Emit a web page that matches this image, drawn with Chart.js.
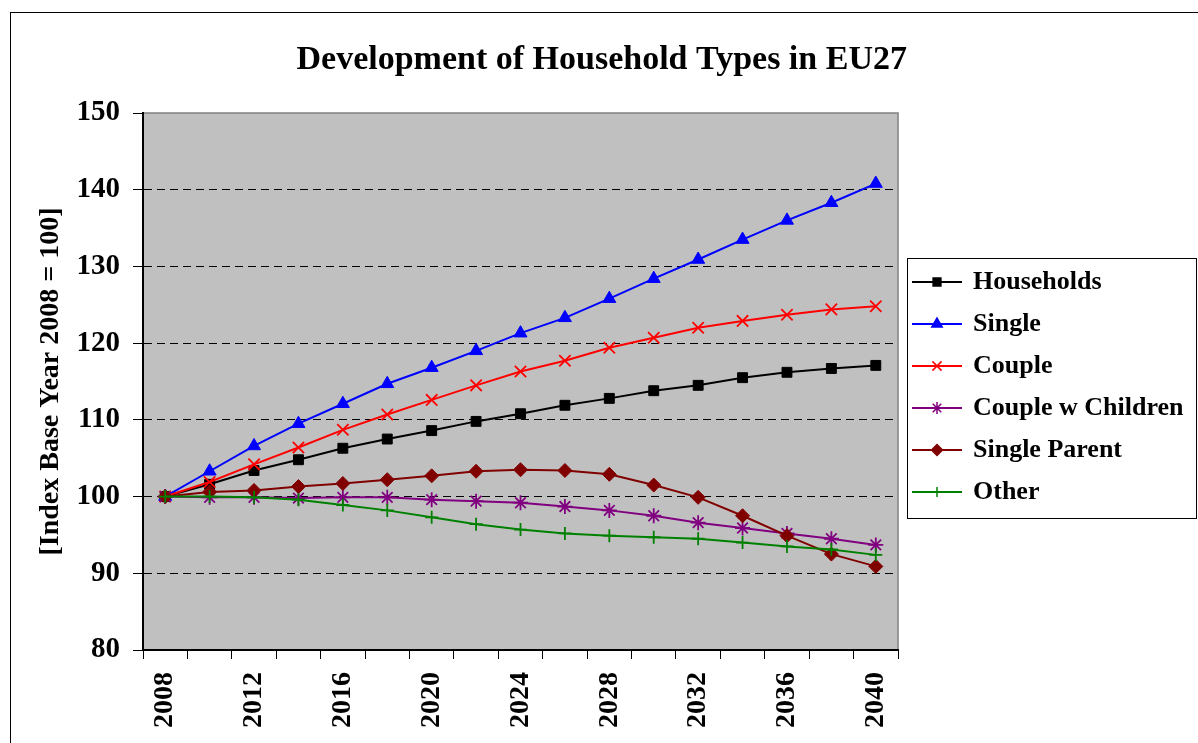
<!DOCTYPE html>
<html>
<head>
<meta charset="utf-8">
<script src="https://cdn.jsdelivr.net/npm/chart.js@4/dist/chart.umd.min.js"></script>
<style>
body { margin: 0; background: #fff; }
</style>
</head>
<body>
<canvas id="hhCanvas" width="1198" height="743"></canvas>
<script>
var years = ['2008', '2010', '2012', '2014', '2016', '2018', '2020', '2022', '2024',
             '2026', '2028', '2030', '2032', '2034', '2036', '2038', '2040'];

var households     = [100, 101.6, 103.4, 104.8, 106.3, 107.5, 108.6, 109.8, 110.8, 111.9, 112.8, 113.8, 114.5, 115.5, 116.2, 116.7, 117.1];
var single         = [100, 103.3, 106.6, 109.5, 112.1, 114.7, 116.8, 119.0, 121.3, 123.3, 125.8, 128.4, 130.9, 133.5, 136.0, 138.3, 140.8];
var couple         = [100, 101.9, 104.2, 106.4, 108.7, 110.7, 112.6, 114.5, 116.3, 117.7, 119.4, 120.7, 122.0, 122.9, 123.7, 124.4, 124.8];
var coupleChildren = [100, 99.9, 99.9, 99.8, 99.9, 99.9, 99.6, 99.4, 99.2, 98.7, 98.2, 97.5, 96.6, 95.9, 95.2, 94.5, 93.7];
var singleParent   = [100, 100.6, 100.8, 101.3, 101.7, 102.2, 102.7, 103.3, 103.5, 103.4, 102.9, 101.5, 99.9, 97.5, 94.9, 92.5, 90.9];
var other          = [100, 100.0, 99.9, 99.6, 98.9, 98.2, 97.3, 96.4, 95.7, 95.2, 94.9, 94.7, 94.5, 94.0, 93.5, 93.1, 92.4];

var seriesNames = ['Households', 'Single', 'Couple', 'Couple w Children', 'Single Parent', 'Other'];
var seriesData = [households, single, couple, coupleChildren, singleParent, other];

// look of each series (Excel 2003 style markers)
var seriesColors = ['#000000', '#0000ff', '#ff0000', '#800080', '#800000', '#008000'];
var seriesMarkers = ['rect', 'triangle', 'crossRot', 'star', 'rectRot', 'cross'];
var markerRadius = [7, 7.5, 8, 7.5, 7, 6.5];

Chart.defaults.font.family = '"Liberation Serif", "Times New Roman", serif';
Chart.defaults.font.weight = 'bold';
Chart.defaults.color = '#000';

// little line + marker picture for the legend
function legendSwatch(i) {
    var c = document.createElement('canvas');
    c.width = 50;
    c.height = 18;
    var g = c.getContext('2d');
    g.strokeStyle = seriesColors[i];
    g.lineWidth = 2;
    g.beginPath();
    g.moveTo(0, 9);
    g.lineTo(50, 9);
    g.stroke();
    g.fillStyle = seriesColors[i];
    g.lineWidth = 1.5;
    Chart.helpers.drawPoint(g, {
        pointStyle: seriesMarkers[i],
        radius: markerRadius[i] - 1.5,
        rotation: 0,
        borderWidth: 1.5
    }, 25, 9);
    return c;
}

var swatches = seriesNames.map(function (n, i) { return legendSwatch(i); });

var frame = {
    id: 'frame',
    beforeDraw: function (chart) {
        var ctx = chart.ctx;
        var a = chart.chartArea;
        ctx.save();
        ctx.fillStyle = '#fff';
        ctx.fillRect(0, 0, chart.width, chart.height);
        ctx.strokeStyle = '#000';
        ctx.lineWidth = 1;
        ctx.strokeRect(10.5, 12.5, chart.width + 20, chart.height + 20);
        ctx.fillStyle = '#c0c0c0';
        ctx.fillRect(a.left, a.top, a.right - a.left, a.bottom - a.top);
        ctx.strokeStyle = '#808080';
        ctx.lineWidth = 1.5;
        ctx.strokeRect(a.left, a.top, a.right - a.left, a.bottom - a.top);
        ctx.restore();
    },
    afterDraw: function (chart) {
        var lg = chart.legend;
        var boxes = lg.legendHitBoxes;
        if (!boxes || !boxes.length) return;
        var last = boxes[boxes.length - 1];
        var top = boxes[0].top - 11;
        var bottom = last.top + last.height + 13;
        var ctx = chart.ctx;
        ctx.save();
        ctx.strokeStyle = '#000';
        ctx.lineWidth = 1;
        ctx.strokeRect(lg.left + 9.5, top + 0.5, chart.width - 1.5 - (lg.left + 9.5), bottom - top);
        ctx.restore();
    }
};

var datasets = seriesNames.map(function (name, i) {
    var stroked = seriesMarkers[i] === 'crossRot' || seriesMarkers[i] === 'star' || seriesMarkers[i] === 'cross';
    return {
        label: name,
        data: seriesData[i],
        borderColor: seriesColors[i],
        backgroundColor: seriesColors[i],
        borderWidth: 2,
        fill: false,
        tension: 0,
        order: 5 - i,
        pointStyle: seriesMarkers[i],
        pointRadius: markerRadius[i],
        pointHoverRadius: markerRadius[i],
        pointBackgroundColor: seriesColors[i],
        pointBorderColor: seriesColors[i],
        pointBorderWidth: stroked ? 1.8 : 1
    };
});

var chart = new Chart(document.getElementById('hhCanvas'), {
    type: 'line',
    data: { labels: years, datasets: datasets },
    plugins: [frame],
    options: {
        responsive: false,
        animation: false,
        layout: { padding: { left: 10, top: 0, right: 0, bottom: 0 } },
        plugins: {
            tooltip: { enabled: false },
            title: {
                display: true,
                text: 'Development of Household Types in EU27',
                font: { size: 34, weight: 'bold' },
                color: '#000',
                padding: { top: 40, bottom: 32.2 }
            },
            legend: {
                position: 'right',
                align: 'center',
                fullSize: false,
                maxWidth: 300,
                title: { display: true, text: '', font: { size: 5 }, padding: 2.5 },
                labels: {
                    usePointStyle: true,
                    pointStyleWidth: 46,
                    padding: 16,
                    color: '#000',
                    font: { size: 26, weight: 'bold' },
                    generateLabels: function (ch) {
                        return ch.data.datasets.map(function (ds, i) {
                            return {
                                text: ds.label,
                                datasetIndex: i,
                                fillStyle: seriesColors[i],
                                strokeStyle: seriesColors[i],
                                lineWidth: 0,
                                pointStyle: swatches[i],
                                hidden: false,
                                fontColor: '#000'
                            };
                        });
                    }
                }
            }
        },
        scales: {
            x: {
                offset: true,
                ticks: {
                    autoSkip: false,
                    minRotation: 90,
                    maxRotation: 90,
                    padding: 13,
                    color: '#000',
                    font: { size: 28, weight: 'bold' },
                    callback: function (v, i) {
                        return i % 2 === 0 ? this.getLabelForValue(v) : '';
                    }
                },
                grid: {
                    offset: true,
                    drawOnChartArea: false,
                    tickLength: 9,
                    tickColor: '#000',
                    tickWidth: 1
                },
                border: { color: '#000', width: 2 },
                afterFit: function (s) { s.height = 93; }
            },
            y: {
                min: 80,
                max: 150,
                ticks: {
                    stepSize: 10,
                    padding: 13,
                    color: '#000',
                    font: { size: 29, weight: 'bold' }
                },
                grid: {
                    color: function (c) {
                        if (c.tick && (c.tick.value === 80 || c.tick.value === 150)) return 'rgba(0,0,0,0)';
                        return '#000';
                    },
                    lineWidth: 1,
                    tickColor: '#000',
                    tickLength: 10,
                    tickBorderDash: []
                },
                border: { color: '#000', width: 2, dash: [8, 5] },
                title: {
                    display: true,
                    text: '[Index Base Year 2008 = 100]',
                    color: '#000',
                    font: { size: 28, weight: 'bold' },
                    padding: { top: 24, bottom: 0 }
                },
                afterFit: function (s) { s.width = 133; }
            }
        }
    }
});

// make the plot area end where the legend box starts
chart.options.layout.padding.right = Math.max(0, 300 - chart.legend.width);
chart.update();
</script>
</body>
</html>
